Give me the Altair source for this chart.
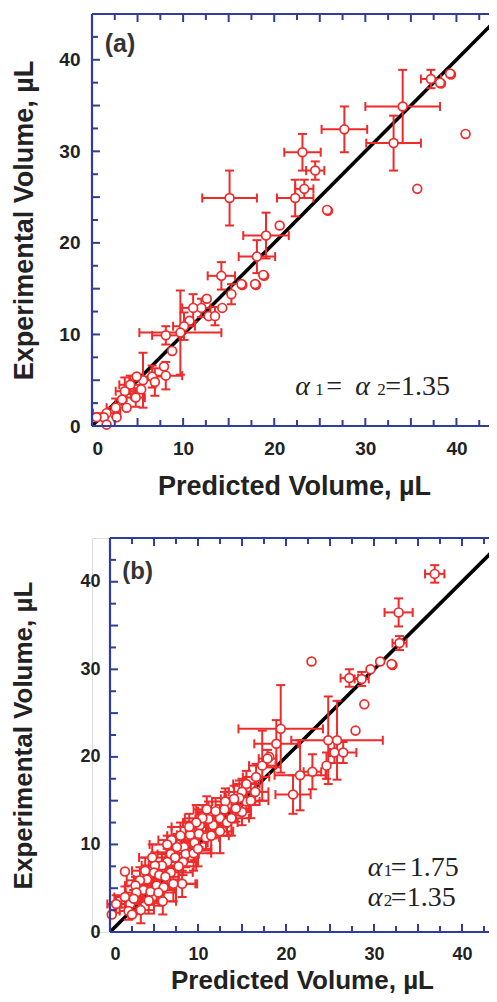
import altair as alt
import pandas as pd

# ---------------- data: panel (a) ----------------
a_x = [34.1, 33.1, 37.2, 38.3, 38.2, 39.4, 39.3, 41.0, 35.7, 27.7,
       23.1, 24.5, 23.3, 22.3, 25.9, 25.8, 20.6, 19.1, 15.1, 18.1,
       18.9, 18.8, 18.0, 17.9, 16.5, 16.4, 14.2, 15.3, 14.3, 12.6,
       12.0, 11.1, 12.8, 13.5, 10.7, 10.1, 9.7, 8.1, 8.8, 7.9,
       8.1, 6.6, 6.9, 5.6, 5.4, 4.7, 4.2, 3.6, 3.3, 2.6,
       3.8, 1.6, 1.3, 2.7, 0.5, 1.6, 4.9, 4.8]
a_y = [34.9, 30.9, 37.9, 37.4, 37.5, 38.4, 38.5, 31.9, 25.9, 32.4,
       29.9, 27.9, 25.9, 24.9, 23.5, 23.6, 21.9, 20.8, 24.9, 18.5,
       16.4, 16.5, 15.4, 15.5, 15.4, 15.5, 16.4, 14.4, 12.9, 13.9,
       12.9, 12.9, 12.0, 12.0, 11.5, 10.9, 10.2, 9.9, 8.2, 6.5,
       5.5, 5.4, 4.8, 5.0, 4.0, 3.2, 4.5, 3.8, 2.9, 2.0,
       2.0, 1.4, 0.95, 0.95, 0.95, 0.15, 5.4, 3.1]
a_xe = [4.1, 3.0, 1.1, 0, 0, 0, 0, 0, 0, 2.5,
        2.0, 1.0, 1.0, 2.0, 0, 0, 0, 2.5, 3.0, 2.0,
        0, 0, 0, 0, 0, 0, 1.5, 0, 0, 0,
        1.0, 1.2, 0, 0, 0, 1.2, 4.5, 1.5, 0, 0,
        1.8, 1.5, 0, 1.5, 0, 0, 1.2, 1.0, 0, 1.0,
        0, 1.5, 0, 0, 0, 0, 0, 1.0]
a_ye = [4.0, 3.0, 1.0, 0, 0, 0, 0, 0, 0, 2.5,
        2.0, 1.0, 1.0, 2.0, 0, 0, 0, 2.5, 3.0, 1.8,
        0, 0, 0, 0, 0, 0, 1.5, 1.1, 0, 0,
        1.0, 1.5, 0, 1.0, 0, 1.5, 4.6, 1.0, 0, 0,
        1.5, 1.2, 1.5, 3.0, 0, 0, 1.0, 1.5, 0, 1.0,
        0, 0, 0, 0, 0, 0, 0, 1.0]

# ---------------- data: panel (b) ----------------
b_x = [36.9, 32.8, 32.9, 32.1, 32.0, 30.7, 29.6, 28.6, 27.2, 22.9,
       28.9, 27.9, 19.4, 24.8, 25.8, 18.9, 18.1, 25.5, 26.5, 17.3,
       24.6, 21.6, 23.0, 16.6, 20.8, 15.5, 15.0, 15.5, 15.0, 17.9,
       14.7, 14.1, 13.1, 14.3, 13.0, 12.5, 13.3, 11.7, 11.2, 10.2,
       10.1, 9.1, 10.9, 9.6, 8.4, 7.6, 8.6, 6.9, 7.4, 8.3,
       6.5, 5.9, 5.1, 5.0, 6.9, 5.6, 6.3, 1.7, 4.2, 3.4,
       2.9, 5.3, 3.8, 4.6, 6.1, 3.0, 4.4, 1.7, 2.3, 2.7,
       0.4, 2.1, 2.5, 0.2, 0.7, 12.0, 11.0, 10.5, 9.8, 9.0,
       8.0, 7.0, 6.5, 11.5, 12.5, 13.8, 16.0, 16.5, 7.8, 9.5,
       10.0, 4.0, 4.8, 3.5, 5.5, 8.2, 6.0, 7.2]
b_y = [40.9, 36.5, 33.0, 30.5, 30.6, 30.9, 30.0, 28.9, 29.0, 30.9,
       26.0, 23.0, 23.2, 21.9, 21.9, 21.5, 20.0, 20.5, 20.5, 19.0,
       19.0, 17.9, 18.3, 17.7, 15.7, 16.9, 16.0, 14.9, 13.7, 19.8,
       15.3, 15.2, 14.9, 14.1, 14.0, 13.0, 12.5, 12.2, 12.9, 12.2,
       11.2, 11.1, 10.8, 10.2, 9.7, 9.7, 8.9, 8.9, 8.5, 8.0,
       8.0, 7.6, 7.6, 6.8, 6.8, 6.5, 6.3, 6.9, 6.0, 5.9,
       5.3, 5.3, 4.8, 4.6, 5.1, 4.5, 3.6, 4.0, 3.2, 3.8,
       3.0, 2.4, 2.0, 2.0, 3.2, 13.8, 14.0, 13.0, 12.5, 12.0,
       11.0, 10.5, 10.0, 11.0, 11.5, 13.0, 15.0, 16.0, 7.5, 9.0,
       9.5, 7.0, 8.5, 2.5, 4.5, 5.5, 3.5, 5.5]
b_xe = [1.1, 1.6, 0.8, 0, 0, 0, 0, 0.8, 1.0, 0,
        0, 0, 4.8, 0, 5.2, 2.5, 0, 0, 1.5, 1.5,
        0, 2.9, 1.0, 1.5, 2.0, 1.5, 1.5, 1.5, 1.0, 1.0,
        1.5, 1.5, 1.5, 1.5, 1.5, 1.5, 1.2, 1.5, 1.5, 1.5,
        1.5, 1.5, 1.5, 1.5, 1.5, 1.2, 1.5, 1.5, 1.5, 1.5,
        1.5, 1.5, 1.5, 1.2, 2.5, 1.2, 1.5, 0, 1.5, 1.5,
        1.2, 1.5, 1.0, 1.5, 1.2, 1.2, 1.5, 1.2, 1.0, 1.0,
        0, 1.0, 0, 0, 1.0, 2.0, 1.5, 2.0, 1.5, 2.0,
        1.5, 1.5, 2.0, 2.0, 1.5, 2.0, 2.0, 1.5, 2.0, 2.0,
        1.5, 1.5, 1.5, 1.5, 2.0, 1.7, 1.5, 2.5]
b_ye = [1.0, 1.6, 0.8, 0, 0, 0, 0, 0.8, 1.0, 0,
        0, 0, 5.0, 5.0, 4.5, 2.7, 0, 1.2, 1.2, 4.0,
        1.5, 4.0, 2.0, 1.5, 2.2, 1.5, 1.5, 1.0, 1.5, 1.0,
        2.0, 1.5, 1.5, 1.5, 2.0, 1.5, 1.5, 1.5, 2.0, 1.5,
        1.5, 1.5, 1.5, 2.0, 1.5, 1.5, 1.5, 1.5, 1.5, 1.5,
        1.5, 1.5, 1.5, 1.2, 2.0, 1.5, 1.5, 0, 1.5, 1.5,
        1.0, 2.0, 1.2, 1.5, 1.5, 1.2, 1.5, 1.2, 1.0, 1.0,
        0, 1.0, 0, 0, 1.0, 1.5, 1.5, 1.5, 2.0, 1.5,
        1.5, 1.5, 1.0, 2.0, 2.5, 2.0, 2.0, 1.5, 1.5, 2.0,
        2.0, 1.5, 1.5, 1.5, 1.5, 1.5, 1.5, 2.0]

# axis labels and frame ticks
label_values = [0, 10, 20, 30, 40]
tick_major = [0, 5, 10, 15, 20, 25, 30, 35, 40, 45]
tick_minor = [2.5, 7.5, 12.5, 17.5, 22.5, 27.5, 32.5, 37.5, 42.5]
line_vals = [0, 45]

x_title = "Predicted Volume, µL"
y_title = "Experimental Volume, µL"

RED = "#ee2b2b"
BLUE = "#2f3d9c"
INK = "#222222"


def make_df(xs, ys, xes, yes):
    df = pd.DataFrame({"x": xs, "y": ys, "xe": xes, "ye": yes})
    df["xlo"] = df["x"] - df["xe"]
    df["xhi"] = df["x"] + df["xe"]
    df["ylo"] = df["y"] - df["ye"]
    df["yhi"] = df["y"] + df["ye"]
    return df


def panel(df, x0, width, height, lab_fs, tit_fs, ylab_pad, ytit_pad,
          xlab_pad, xtit_pad, title_x, tag, tag_pos, tag_fs, ann):
    """x0: pixel inset of the plot frame inside the view (aligns panel b)."""
    full_w = x0 + width
    xaxis = alt.Axis(values=label_values, domain=False, ticks=False, tickSize=0,
                     grid=False, labelFont="Liberation Sans", labelFontWeight="bold",
                     labelFontSize=lab_fs, labelColor=INK, labelPadding=xlab_pad,
                     title=x_title, titleFont="Liberation Sans", titleFontWeight="bold",
                     titleFontSize=tit_fs, titleColor=INK, titlePadding=xtit_pad,
                     titleX=title_x)
    yaxis = alt.Axis(values=label_values, domain=False, ticks=False, tickSize=0,
                     grid=False, labelFont="Liberation Sans", labelFontWeight="bold",
                     labelFontSize=lab_fs, labelColor=INK, labelPadding=ylab_pad,
                     title=y_title, titleFont="Liberation Sans", titleFontWeight="bold",
                     titleFontSize=tit_fs, titleColor=INK, titlePadding=ytit_pad,
                     offset=-x0)
    xs = alt.Scale(domain=[0, 45], nice=False, zero=False, range=[x0, full_w])
    ys = alt.Scale(domain=[0, 45], nice=False, zero=False)

    def X(f):
        return alt.X(f, type="quantitative", scale=xs, axis=xaxis, title=x_title)

    def Y(f):
        return alt.Y(f, type="quantitative", scale=ys, axis=yaxis, title=y_title)

    base = alt.Chart(df)
    xerr = base.transform_filter("datum.xe > 0")
    yerr = base.transform_filter("datum.ye > 0")

    line_df = pd.DataFrame({"x": line_vals, "y": line_vals})
    line = alt.Chart(line_df).mark_line(color="black", strokeWidth=3.6).encode(
        x=X("x"), y=Y("y"))

    xr = xerr.mark_rule(color=RED, strokeWidth=2).encode(x=X("xlo"), x2="xhi", y=Y("y"))
    yr = yerr.mark_rule(color=RED, strokeWidth=2).encode(y=Y("ylo"), y2="yhi", x=X("x"))
    cap_kw = dict(color=RED, thickness=2, size=9, opacity=1)
    c1 = xerr.mark_tick(orient="vertical", **cap_kw).encode(x=X("xlo"), y=Y("y"))
    c2 = xerr.mark_tick(orient="vertical", **cap_kw).encode(x=X("xhi"), y=Y("y"))
    c3 = yerr.mark_tick(orient="horizontal", **cap_kw).encode(x=X("x"), y=Y("ylo"))
    c4 = yerr.mark_tick(orient="horizontal", **cap_kw).encode(x=X("x"), y=Y("yhi"))

    pts = base.mark_point(shape="circle", filled=False, fill="white", fillOpacity=1,
                          stroke=RED, strokeWidth=1.7, size=78, opacity=1).encode(
        x=X("x"), y=Y("y"))

    # blue frame: four borders + inward ticks on all four sides
    fr = alt.Chart(pd.DataFrame({"lo": [line_vals[0]], "hi": [line_vals[1]]}))
    bk = dict(color=BLUE, strokeWidth=2.2)
    frame = [
        fr.mark_rule(**bk).encode(x=X("lo"), x2="hi", y=alt.value(0)),
        fr.mark_rule(**bk).encode(x=X("lo"), x2="hi", y=alt.value(height)),
        fr.mark_rule(**bk).encode(x=X("lo"), y=alt.value(0), y2=alt.value(height)),
        fr.mark_rule(**bk).encode(x=X("hi"), y=alt.value(0), y2=alt.value(height)),
    ]
    for vals, L in ((tick_major, 8), (tick_minor, 6)):
        tk = alt.Chart(pd.DataFrame({"v": vals}))
        rk = dict(color=BLUE, strokeWidth=2)
        frame.append(tk.mark_rule(**rk).encode(
            x=X("v"), y=alt.value(0), y2=alt.value(L)))
        frame.append(tk.mark_rule(**rk).encode(
            x=X("v"), y=alt.value(height), y2=alt.value(height - L)))
        frame.append(tk.mark_rule(**rk).encode(
            y=Y("v"), x=alt.value(x0), x2=alt.value(x0 + L)))
        frame.append(tk.mark_rule(**rk).encode(
            y=Y("v"), x=alt.value(full_w), x2=alt.value(full_w - L)))

    tag_df = pd.DataFrame({"x": [tag_pos[0]], "y": [tag_pos[1]], "t": [tag]})
    tag_layer = alt.Chart(tag_df).mark_text(
        font="Liberation Sans", fontWeight="bold", fontSize=tag_fs, color="#333333",
        align="left", baseline="alphabetic").encode(x=X("x"), y=Y("y"), text="t:N")

    ann_layers = []
    for (ax, ay, txt, dx, fs, style) in ann:
        adf = pd.DataFrame({"x": [ax], "y": [ay], "t": [txt]})
        ann_layers.append(alt.Chart(adf).mark_text(
            font="Liberation Serif", fontSize=fs, fontStyle=style, color=INK,
            align="left", baseline="alphabetic", dx=dx).encode(
            x=X("x"), y=Y("y"), text="t:N"))

    return alt.layer(line, xr, yr, c1, c2, c3, c4, pts, *frame,
                     tag_layer, *ann_layers).properties(width=full_w, height=height)


df_a = make_df(a_x, a_y, a_xe, a_ye)
df_b = make_df(b_x, b_y, b_xe, b_ye)

ann_a = [
    (22.3, 3.4, "α", 0, 28, "italic"),
    (22.3, 3.4, "1", 20, 17, "normal"),
    (22.3, 3.4, "=", 31, 28, "normal"),
    (22.3, 3.4, "α", 60, 28, "italic"),
    (22.3, 3.4, "2", 82, 17, "normal"),
    (22.3, 3.4, "=1.35", 90, 28, "normal"),
]
ann_b = [
    (29.3, 6.4, "α", 0, 28, "italic"),
    (29.3, 6.4, "1", 16, 17, "normal"),
    (29.3, 6.4, "=", 23, 28, "normal"),
    (29.3, 6.4, "1.75", 42, 28, "normal"),
    (29.3, 3.0, "α", 0, 28, "italic"),
    (29.3, 3.0, "2", 16, 17, "normal"),
    (29.3, 3.0, "=1.35", 23, 28, "normal"),
]

pa = panel(df_a, 0, 410, 412, 19, 27, 12, 20, 13, 15, 202,
           "(a)", (1.4, 40.8), 25, ann_a)
pb = panel(df_b, 18, 396, 394, 18, 26, 10, 43, 13, 4, 210,
           "(b)", (1.4, 40.3), 24, ann_b)

# The page window is 497 x 1002 with an 8px body margin on each side; the SVG
# is sized through padding (autosize none) so that the page never overflows
# and the figure is simply cropped at its right and bottom edges.
chart = alt.concat(pa, pb, columns=1, spacing=30).properties(
    autosize=alt.AutoSizeParams(type="none"),
    padding={"left": 84, "top": 6, "right": 397, "bottom": 980},
).configure_view(stroke="transparent", strokeWidth=0).configure(background="white")

chart.save("out.html", embed_options={"renderer": "svg", "actions": False})
